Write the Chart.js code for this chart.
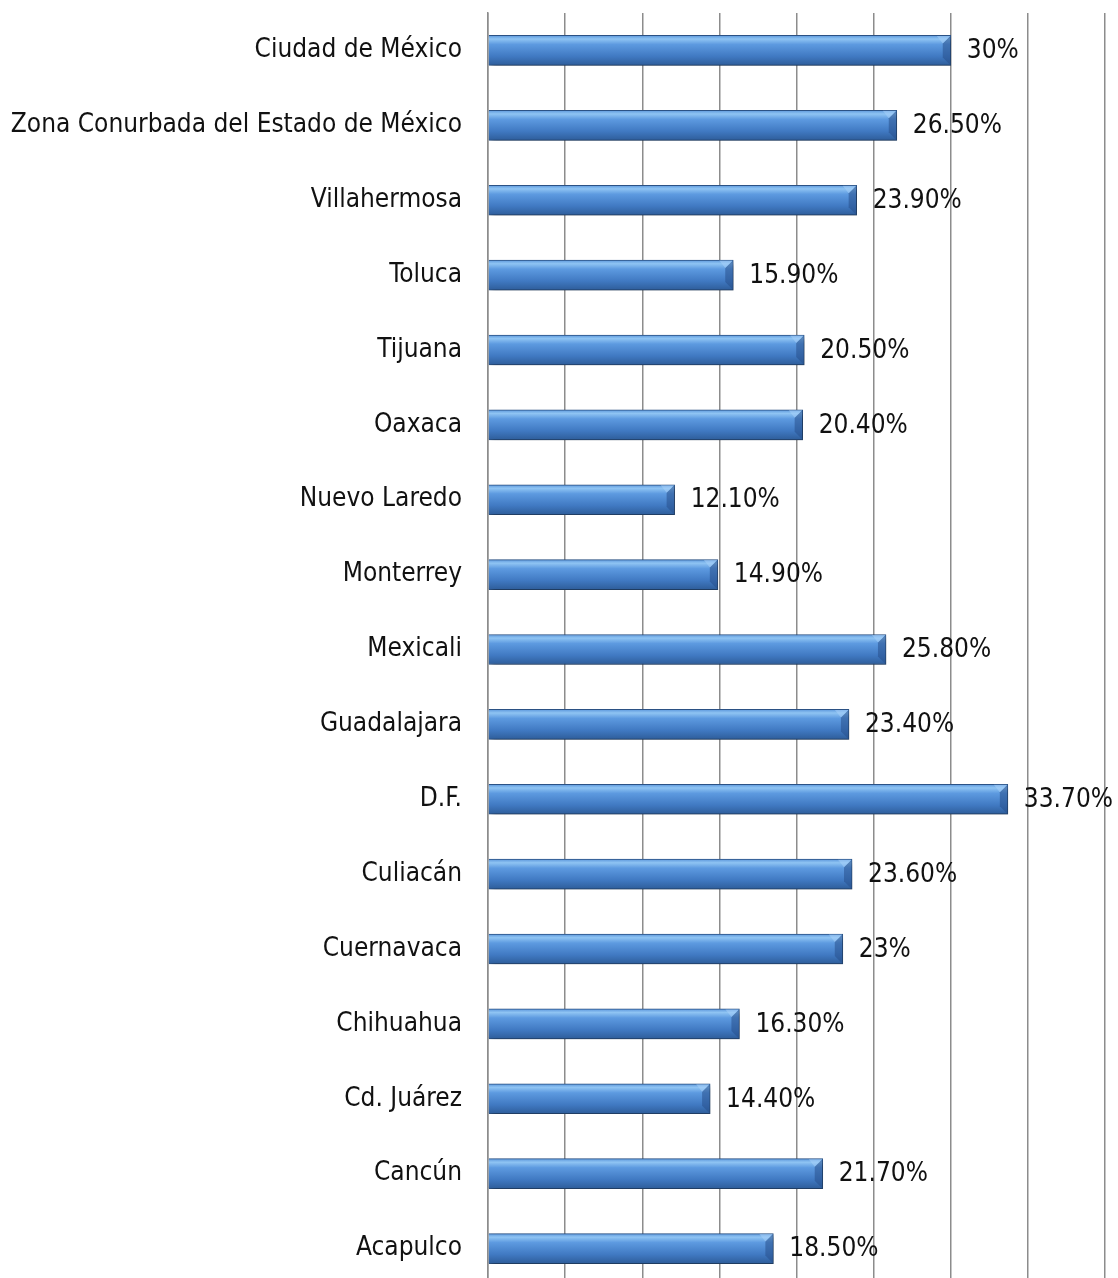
<!DOCTYPE html>
<html>
<head>
<meta charset="utf-8">
<script src="https://cdn.jsdelivr.net/npm/chart.js@4/dist/chart.umd.min.js"></script>
<style>
  html, body { margin: 0; padding: 0; background: #fff; overflow: hidden; }
  #wrap { width: 1118px; height: 1290px; }
</style>
</head>
<body>
<div id="wrap"><canvas id="ciudades"></canvas></div>
<script>
const cities = [
  "Ciudad de México",
  "Zona Conurbada del Estado de México",
  "Villahermosa",
  "Toluca",
  "Tijuana",
  "Oaxaca",
  "Nuevo Laredo",
  "Monterrey",
  "Mexicali",
  "Guadalajara",
  "D.F.",
  "Culiacán",
  "Cuernavaca",
  "Chihuahua",
  "Cd. Juárez",
  "Cancún",
  "Acapulco",
];
const percents = [30, 26.5, 23.9, 15.9, 20.5, 20.4, 12.1, 14.9, 25.8, 23.4, 33.7, 23.6, 23, 16.3, 14.4, 21.7, 18.5];
const axisMax = 40;
const axisStep = 5;

const FONT = "'DejaVu Sans Condensed', 'DejaVu Sans', sans-serif";

function fmt(v) {
  return Number.isInteger(v) ? v + "%" : v.toFixed(2) + "%";
}

// vertical gradient per bar so each one looks rounded
function barFill(ctx) {
  const chart = ctx.chart;
  if (!chart.chartArea || ctx.dataIndex === undefined) return "#4a86cf";
  const yc = chart.scales.y.getPixelForValue(ctx.dataIndex);
  const g = chart.ctx.createLinearGradient(0, yc - 15, 0, yc + 15);
  g.addColorStop(0, "#5c97dc");
  g.addColorStop(0.12, "#8fc4f3");
  g.addColorStop(0.3, "#5d9ae0");
  g.addColorStop(0.7, "#4079c2");
  g.addColorStop(1, "#2e5d9a");
  return g;
}

const shadowPlugin = {
  id: "barShadow",
  beforeDatasetDraw(chart) {
    const c = chart.ctx;
    c.save();
    c.shadowColor = "rgba(0,0,0,0.35)";
    c.shadowBlur = 5;
    c.shadowOffsetX = 3;
    c.shadowOffsetY = 3;
  },
  afterDatasetDraw(chart) {
    chart.ctx.restore();
  },
};

// bevelled end cap + value labels
const capsAndLabels = {
  id: "capsAndLabels",
  afterDatasetsDraw(chart) {
    const c = chart.ctx;
    const meta = chart.getDatasetMeta(0);
    c.save();
    meta.data.forEach((bar, i) => {
      const h = bar.height;
      const top = bar.y - h / 2;
      const bot = bar.y + h / 2;
      const x = bar.x;
      const b = 8;
      c.fillStyle = "rgba(40,80,140,0.55)";
      c.beginPath();
      c.moveTo(x - b, top + b);
      c.lineTo(x - 0.5, top + 0.5);
      c.lineTo(x - 0.5, bot - 0.5);
      c.lineTo(x - b, bot - b);
      c.closePath();
      c.fill();
      c.fillStyle = "rgba(170,210,250,0.5)";
      c.beginPath();
      c.moveTo(x - b, top + b);
      c.lineTo(x - 0.5, top + 0.5);
      c.lineTo(x - b - 6, top + 0.5);
      c.closePath();
      c.fill();

      c.fillStyle = "#111";
      c.font = "26px " + FONT;
      c.textAlign = "left";
      c.textBaseline = "middle";
      c.fillText(fmt(percents[i]), x + 16, bar.y + 1);
    });
    c.restore();
  },
};

new Chart(document.getElementById("ciudades"), {
  type: "bar",
  data: {
    labels: cities,
    datasets: [
      {
        data: percents,
        backgroundColor: barFill,
        borderColor: "#2c5488",
        borderWidth: 1,
        borderSkipped: "left",
        barThickness: 30,
      },
    ],
  },
  options: {
    indexAxis: "y",
    responsive: true,
    maintainAspectRatio: false,
    animation: false,
    layout: { padding: { top: 13, right: 13, left: 0, bottom: 4 } },
    plugins: {
      legend: { display: false },
      tooltip: { enabled: false },
    },
    scales: {
      x: {
        min: 0,
        max: axisMax,
        ticks: { display: false, stepSize: axisStep },
        grid: { color: "#8c8c8c", lineWidth: 1.5, drawTicks: false },
        border: { display: false },
        afterFit(scale) {
          scale.height = 0;
        },
      },
      y: {
        ticks: {
          color: "#111",
          font: { family: FONT, size: 26 },
          padding: 26,
        },
        grid: { display: false, drawTicks: false },
        border: { color: "#8c8c8c", width: 1.5 },
        afterFit(scale) {
          scale.width = 488;
          scale.paddingTop = 0;
          scale.paddingBottom = 0;
        },
      },
    },
  },
  plugins: [shadowPlugin, capsAndLabels],
});
</script>
</body>
</html>
